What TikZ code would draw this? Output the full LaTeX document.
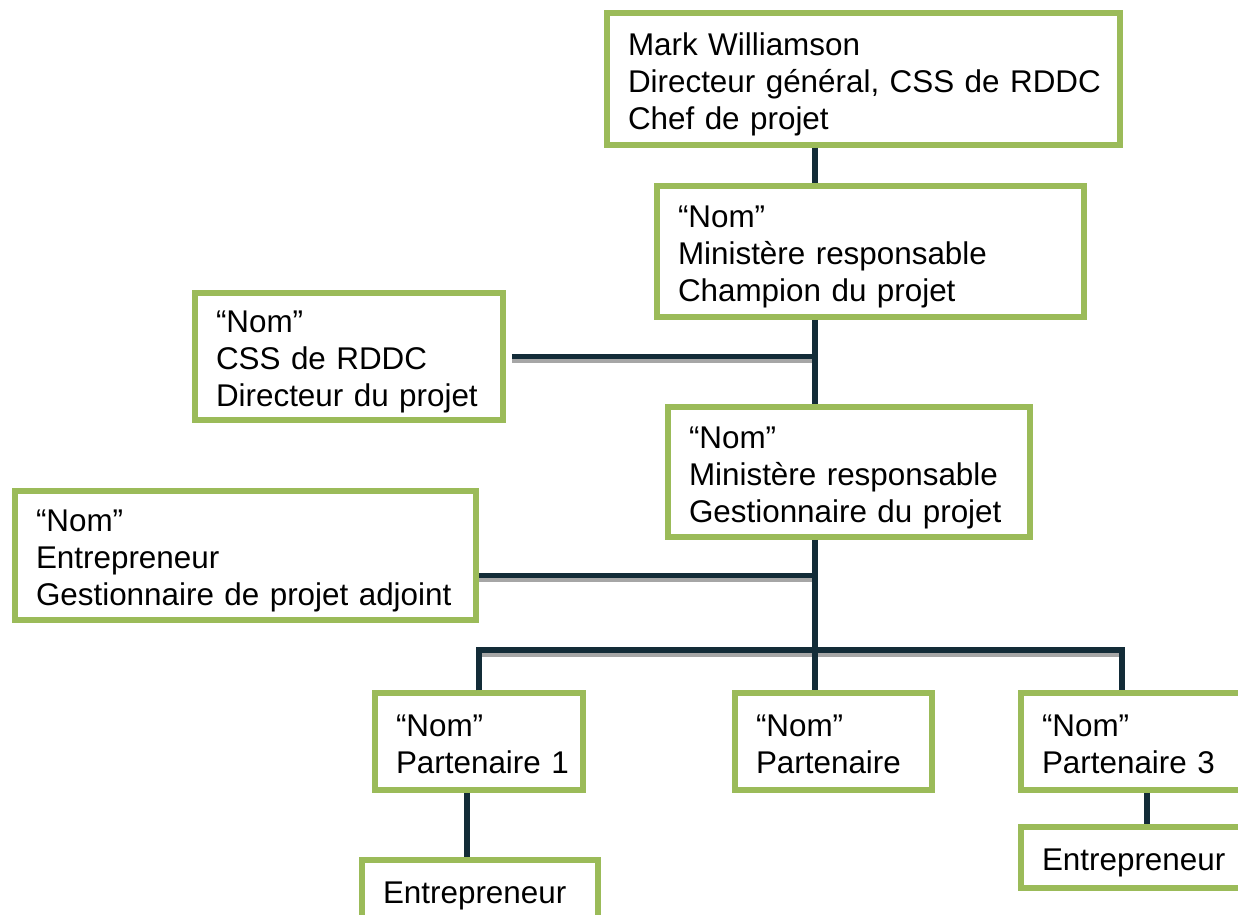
\documentclass[tikz,border=0pt]{standalone}
\usepackage{fontspec}
\setmainfont{Liberation Sans}
\definecolor{boxgreen}{HTML}{9BBB59}
\definecolor{linkdark}{HTML}{132C38}
\definecolor{shadowgray}{HTML}{A6A6A6}
\newcommand\boxlines[1]{\raisebox{-3pt}[\height][\depth]{\begin{tabular}{@{}l@{}}#1\end{tabular}}}
\tikzset{
  box/.style={draw=boxgreen, line width=2.75pt, fill=white, align=left,
    inner xsep=10.5pt, inner ysep=0pt, font=\fontsize{15.7}{18.5}\selectfont},
  link/.style={draw=linkdark, line width=2.75pt},
  linkshadow/.style={draw=shadowgray, line width=2.75pt, transform canvas={yshift=-2pt}}
}
\begin{document}
\begin{tikzpicture}[x=0.5pt, y=-0.5pt]
\clip (0,0) rectangle (1238,915);
\fill[white] (0,0) rectangle (1238,915);
\coordinate (spine) at (815,0);
\coordinate (bus) at (815,650);

\node[box, text width=235.5pt, minimum height=66pt] (chef) at (863.5,79)
  {\boxlines{Mark Williamson\\Directeur général, CSS de RDDC\\Chef de projet}};
\node[box, text width=192.5pt, minimum height=65.5pt] (champion) at (870.5,251.5)
  {\boxlines{“Nom”\\Ministère responsable\\Champion du projet}};
\node[box, text width=133pt, minimum height=63.5pt] (directeur) at (349,356.5)
  {\boxlines{“Nom”\\CSS de RDDC\\Directeur du projet}};
\node[box, text width=160pt, minimum height=65pt] (gestionnaire) at (849,472)
  {\boxlines{“Nom”\\Ministère responsable\\Gestionnaire du projet}};
\node[box, text width=209.5pt, minimum height=64.5pt] (adjoint) at (245.5,555.5)
  {\boxlines{“Nom”\\Entrepreneur\\Gestionnaire de projet adjoint}};
\node[box, text width=83pt, minimum height=48.5pt] (part1) at (479,741.5)
  {\boxlines{“Nom”\\Partenaire 1}};
\node[box, text width=77.5pt, minimum height=48.5pt] (part2) at (833.5,741.5)
  {\boxlines{“Nom”\\Partenaire}};
\node[box, text width=94pt, minimum height=48.5pt] (part3) at (1136,741.5)
  {\boxlines{“Nom”\\Partenaire 3}};
\node[box, text width=97pt, minimum height=30.5pt] (entr1) at (480,890.5)
  {\boxlines{Entrepreneur}};
\node[box, text width=94pt, minimum height=30.5pt] (entr3) at (1136,857.5)
  {\boxlines{Entrepreneur}};

% link end points off the box centres
\coordinate (tapdir) at ([xshift=3pt]directeur.east);
\coordinate (tapadj) at ([yshift=-10pt]adjoint.east);
\coordinate (drop3) at ([xshift=-7pt]part3.north);
\coordinate (foot1) at ([xshift=-6pt]part1.south);
\coordinate (foot3) at ([xshift=5.5pt]part3.south);

% shadows under the horizontal links
\draw[linkshadow] (tapdir) -- (tapdir -| spine);
\draw[linkshadow] (tapadj) -- (tapadj -| spine);
\draw[linkshadow] (part1.north |- bus) -- (bus -| drop3);

% links
\draw[link] (chef.south -| spine) -- (champion.north -| spine);
\draw[link] (champion.south -| spine) -- (gestionnaire.north -| spine);
\draw[link] (tapdir) -- (tapdir -| spine);
\draw[link] (gestionnaire.south -| spine) -- (part2.north -| spine);
\draw[link] (tapadj) -- (tapadj -| spine);
\draw[link] (part1.north) |- (bus) -| (drop3);
\draw[link] (foot1) -- (foot1 |- entr1.north);
\draw[link] (foot3) -- (foot3 |- entr3.north);
\end{tikzpicture}
\end{document}
